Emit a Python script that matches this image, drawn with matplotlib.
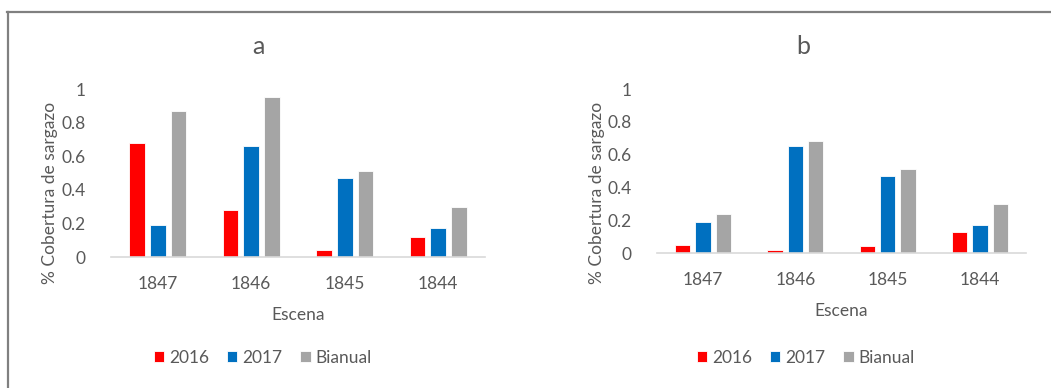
import matplotlib
matplotlib.use("Agg")
import matplotlib.pyplot as plt
from matplotlib.lines import Line2D
import numpy as np

plt.rcParams['font.family'] = ['Lato', 'DejaVu Sans']

escenas = ["1847", "1846", "1845", "1844"]
series_names = ["2016", "2017", "Bianual"]
series_colors = ["#FF0000", "#0070C0", "#A5A5A5"]

cobertura_a_2016 = [0.68, 0.28, 0.04, 0.12]
cobertura_a_2017 = [0.19, 0.66, 0.47, 0.17]
cobertura_a_bianual = [0.87, 0.95, 0.51, 0.30]

cobertura_b_2016 = [0.05, 0.02, 0.04, 0.13]
cobertura_b_2017 = [0.19, 0.65, 0.47, 0.17]
cobertura_b_bianual = [0.24, 0.68, 0.51, 0.30]

yticks = [0, 0.2, 0.4, 0.6, 0.8, 1]
ytick_labels = ["0", "0.2", "0.4", "0.6", "0.8", "1"]

W, H = 1051, 388
TXT = "#595959"
FS = 12.5
fig = plt.figure(figsize=(W / 100, H / 100), dpi=100)


def px(x, y):
    return x / W, 1 - y / H


def panel(rect, data, title, title_xy, ylab_xy, xlab_xy, leg_xy):
    ax = fig.add_axes(rect)
    x = np.arange(len(escenas))
    offsets = [-0.22, 0.0, 0.22]
    handles = []
    for vals, off, col, name in zip(data, offsets, series_colors, series_names):
        b = ax.bar(x + off, vals, width=0.166, color=col, edgecolor="white",
                   linewidth=0.6, label=name, zorder=3)
        handles.append(b)
    ax.set_xlim(-0.5, len(escenas) - 0.5)
    ax.set_ylim(0, 1)
    ax.set_yticks(yticks)
    ax.set_yticklabels(ytick_labels)
    ax.set_xticks(x)
    ax.set_xticklabels(escenas)
    ax.tick_params(axis="both", length=0, labelsize=FS, colors=TXT)
    ax.tick_params(axis="x", pad=14)
    ax.tick_params(axis="y", pad=18)
    for s in ["top", "right", "left"]:
        ax.spines[s].set_visible(False)
    ax.spines["bottom"].set_color("#D9D9D9")
    ax.spines["bottom"].set_linewidth(1.2)
    ax.spines["bottom"].set_zorder(4)
    fig.text(*px(*title_xy), title, ha="center", va="center", fontsize=18, color=TXT)
    fig.text(*px(*ylab_xy), "% Cobertura de sargazo", ha="center", va="center",
             rotation=90, fontsize=12.5, color=TXT)
    fig.text(*px(*xlab_xy), "Escena", ha="center", va="center", fontsize=FS, color=TXT)
    fig.legend(handles=handles, labels=series_names, loc="center",
               bbox_to_anchor=px(*leg_xy), ncol=3, frameon=False,
               handlelength=0.6, handleheight=0.6, handletextpad=0.3,
               columnspacing=1.0, fontsize=FS, labelcolor=TXT)
    return ax


panel([111 / W, 131 / H, 374 / W, 168 / H],
      [cobertura_a_2016, cobertura_a_2017, cobertura_a_bianual],
      "a", (258, 47), (50, 193), (298, 315), (263, 358))
panel([657 / W, 135 / H, 369 / W, 164 / H],
      [cobertura_b_2016, cobertura_b_2017, cobertura_b_bianual],
      "b", (803, 47), (597, 193), (841, 311), (806, 358))

# outer frame (top and left edges)
fig.add_artist(Line2D([7 / W, 1.0], [1 - 12 / H, 1 - 12 / H], color="#808080",
                      linewidth=1.6, transform=fig.transFigure))
fig.add_artist(Line2D([7.5 / W, 7.5 / W], [1 - 12 / H, 0], color="#808080",
                      linewidth=1.6, transform=fig.transFigure))

fig.savefig("out.png", dpi=100)
